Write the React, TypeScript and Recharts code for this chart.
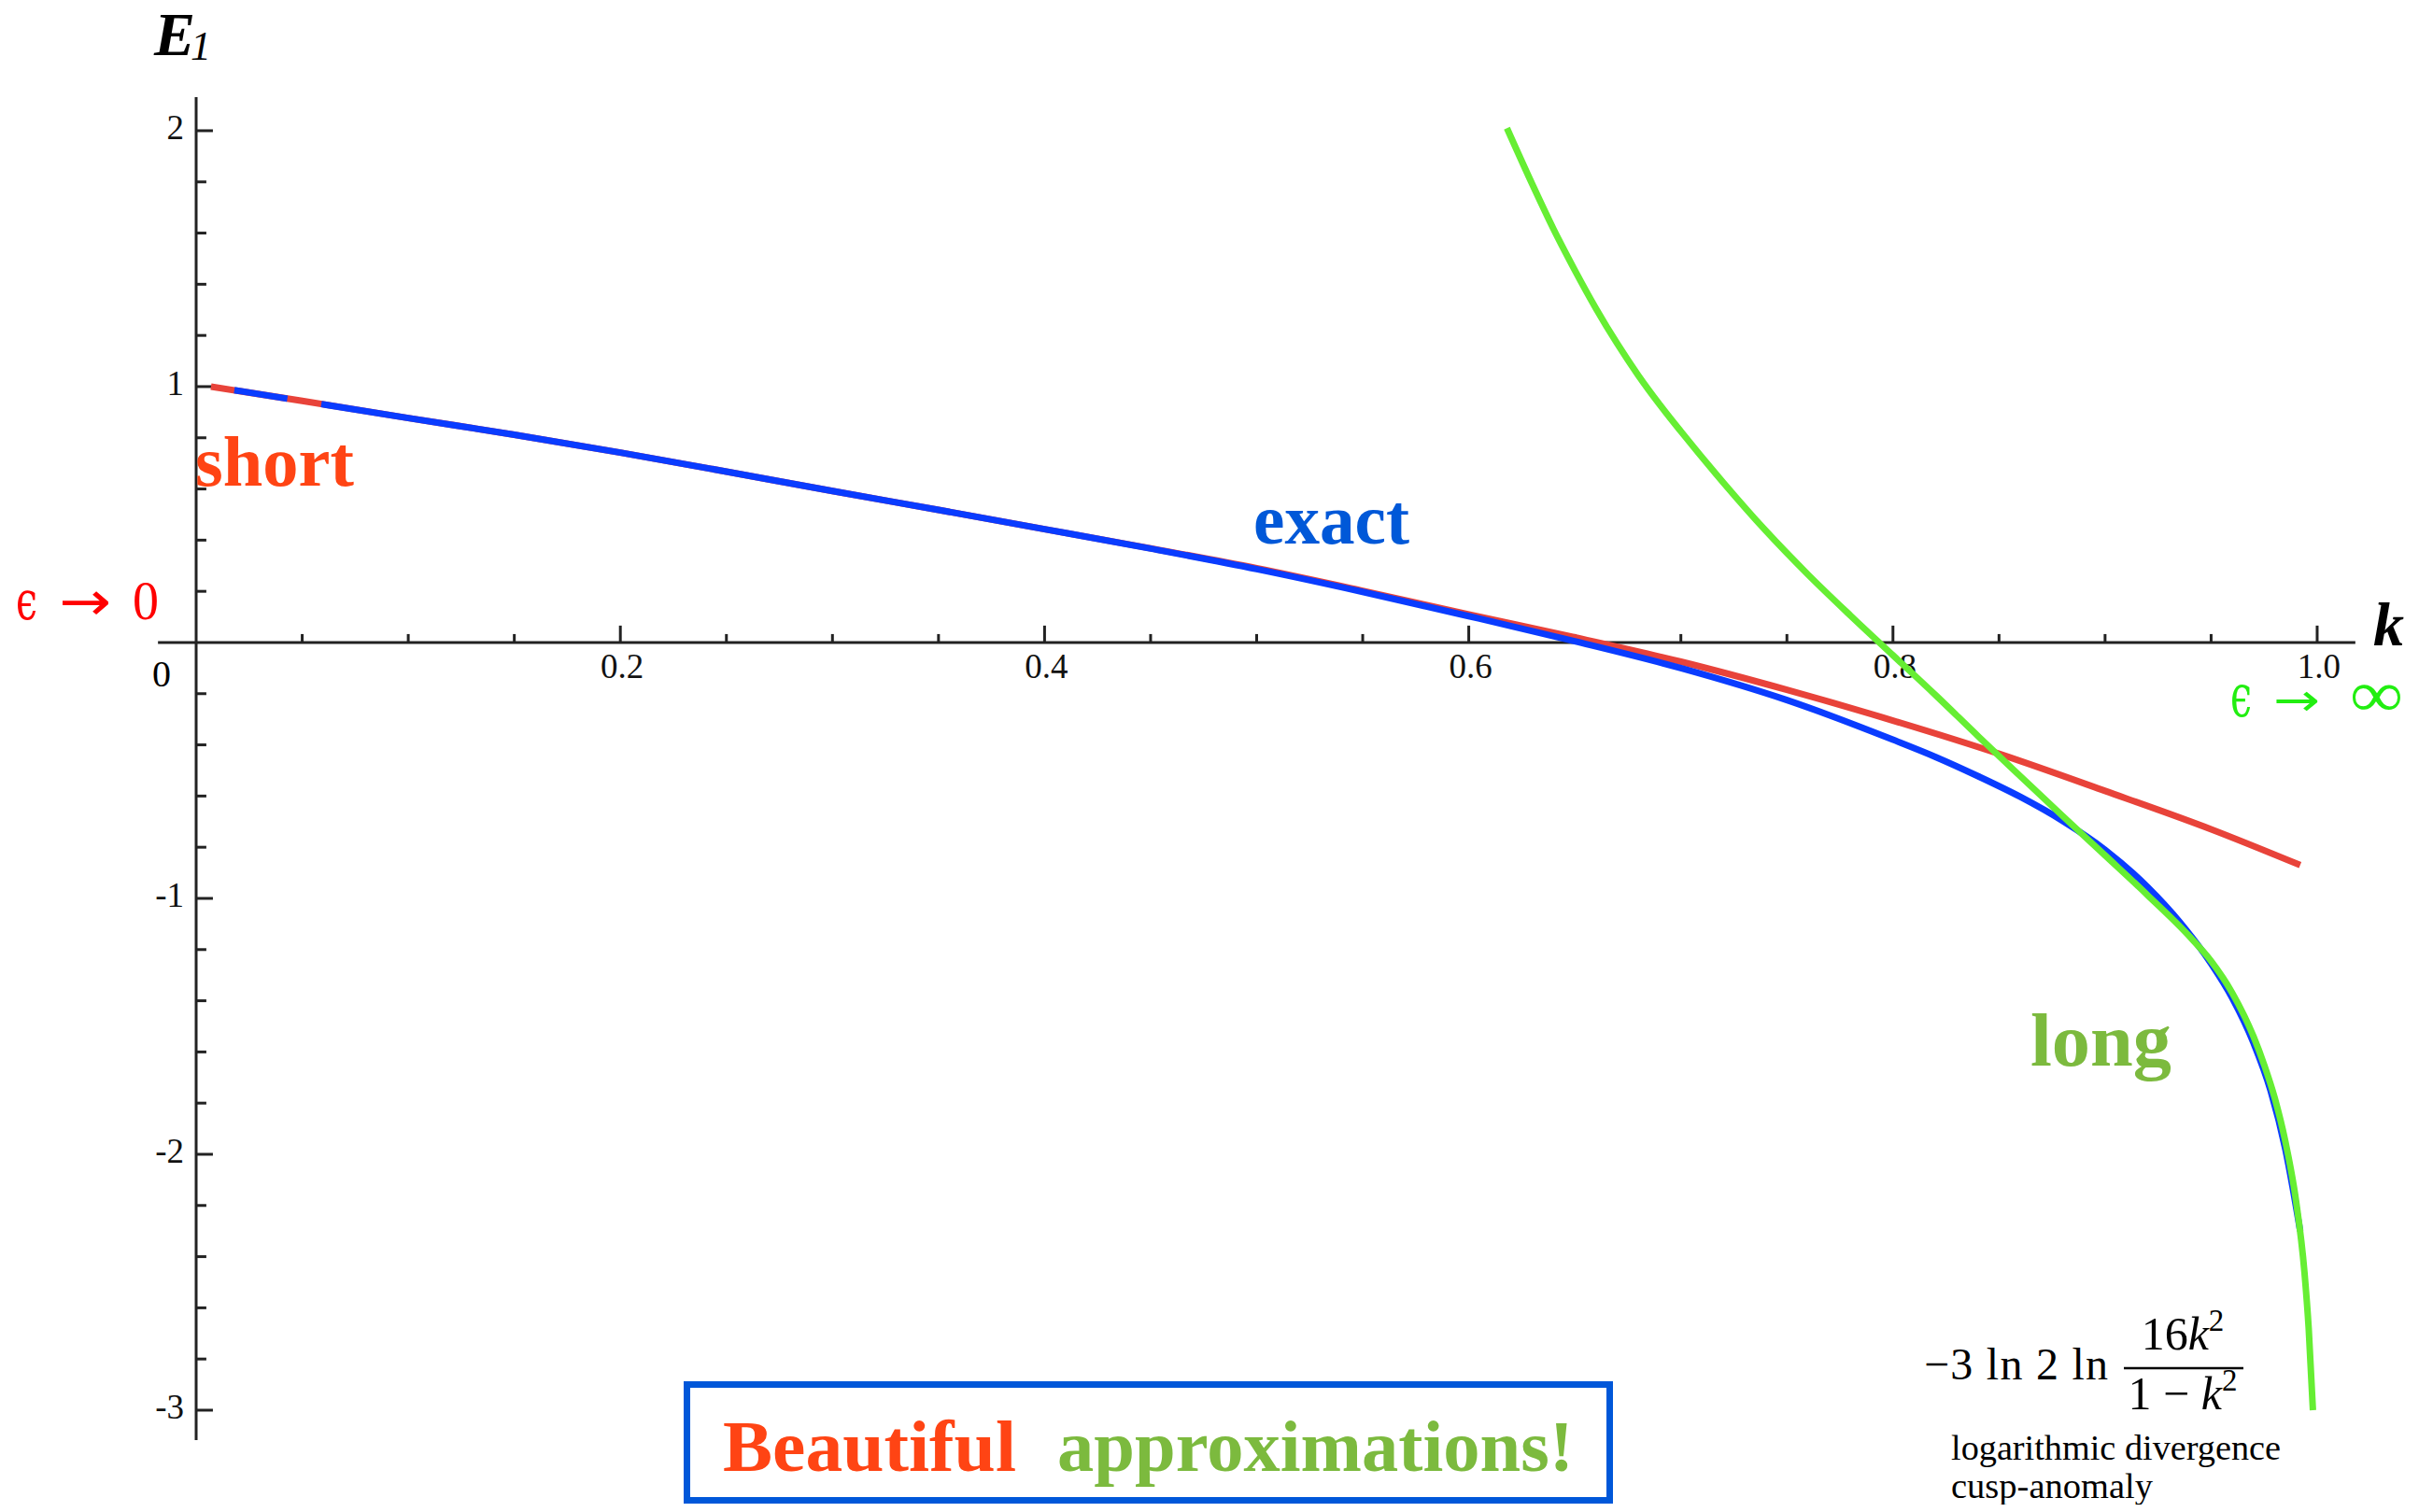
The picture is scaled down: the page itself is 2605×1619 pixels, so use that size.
import React from 'react';
import { LineChart, Line, XAxis, YAxis, ReferenceLine } from 'recharts';

// exact curve (blue) — the small gap near k=0.05 lets the red curve show through
const kExact = [0.018, 0.043, 0.05, 0.059, 0.1, 0.15, 0.2, 0.25, 0.3, 0.35, 0.4, 0.45, 0.5, 0.55, 0.6, 0.65, 0.7, 0.75, 0.8, 0.82, 0.84, 0.86, 0.88, 0.9, 0.92, 0.935, 0.95, 0.96, 0.97, 0.978, 0.985, 0.992];
const eExact = [0.986, 0.953, null, 0.932, 0.877, 0.812, 0.742, 0.668, 0.592, 0.518, 0.443, 0.367, 0.287, 0.198, 0.103, 0.005, -0.1, -0.225, -0.38, -0.447, -0.522, -0.603, -0.697, -0.81, -0.955, -1.09, -1.255, -1.39, -1.565, -1.75, -1.98, -2.3];

// short string expansion (red)
const kShort = [0.007, 0.05, 0.1, 0.15, 0.2, 0.25, 0.3, 0.35, 0.4, 0.45, 0.5, 0.55, 0.6, 0.65, 0.7, 0.75, 0.8, 0.85, 0.9, 0.95, 0.992];
const eShort = [1.0, 0.944, 0.877, 0.812, 0.742, 0.668, 0.592, 0.518, 0.443, 0.368, 0.29, 0.202, 0.11, 0.02, -0.075, -0.185, -0.305, -0.435, -0.58, -0.73, -0.87];

// long string expansion (green)
const kLong = [0.618, 0.63, 0.64, 0.65, 0.66, 0.67, 0.68, 0.69, 0.7, 0.72, 0.74, 0.76, 0.78, 0.8, 0.82, 0.84, 0.86, 0.88, 0.9, 0.92, 0.94, 0.95, 0.96, 0.97, 0.975, 0.98, 0.985, 0.99, 0.994, 0.996, 0.998];
const eLong = [2.01, 1.79, 1.615, 1.455, 1.305, 1.168, 1.043, 0.93, 0.825, 0.625, 0.437, 0.265, 0.105, -0.05, -0.205, -0.365, -0.522, -0.678, -0.832, -0.987, -1.15, -1.245, -1.37, -1.54, -1.65, -1.78, -1.95, -2.18, -2.46, -2.68, -3.0];

// axes
const xMajor = [0.2, 0.4, 0.6, 0.8, 1.0];
const xTickLabels = ['0.2', '0.4', '0.6', '0.8', '1.0'];
const xMinor = [0.05, 0.1, 0.15, 0.25, 0.3, 0.35, 0.45, 0.5, 0.55, 0.65, 0.7, 0.75, 0.85, 0.9, 0.95];
const yMajor = [2, 1, -1, -2, -3];
const yTickLabels = ['2', '1', '-1', '-2', '-3'];
const yMinor = [1.8, 1.6, 1.4, 1.2, 0.8, 0.6, 0.4, 0.2, -0.2, -0.4, -0.6, -0.8, -1.2, -1.4, -1.6, -1.8, -2.2, -2.4, -2.6, -2.8];

const toRows = (ks: number[], es: (number | null)[]) => ks.map((k, i) => ({ k, e: es[i] }));
const exactData = toRows(kExact, eExact);
const shortData = toRows(kShort, eShort);
const longData = toRows(kLong, eLong);

const serif = "'Liberation Serif', 'DejaVu Serif', serif";
const axisColor = '#222';

const xTickLabel = (text: string) => (props: any) => {
  const vb = props.viewBox;
  return (
    <text x={vb.x + vb.width / 2 + 2} y={vb.y + vb.height + 38} textAnchor="middle" fontSize={37} fontFamily={serif} fill="#111">
      {text}
    </text>
  );
};

const yTickLabel = (text: string) => (props: any) => {
  const vb = props.viewBox;
  return (
    <text x={vb.x - 13} y={vb.y + 9} textAnchor="end" fontSize={37} fontFamily={serif} fill="#111">
      {text}
    </text>
  );
};

export default function App() {
  return (
    <div style={{ position: 'relative', width: 2589, height: 1603 }}>
      <LineChart width={2589} height={1603} margin={{ top: 93.6, right: 70.6, bottom: 65.4, left: 156.6 }}>
        <XAxis type="number" dataKey="k" domain={[-0.02, 1.02]} hide allowDataOverflow />
        <YAxis type="number" domain={[-3.13, 2.14]} hide allowDataOverflow />

        {/* axes crossing at the origin */}
        <ReferenceLine segment={[{ x: -0.018, y: 0 }, { x: 1.018, y: 0 }]} stroke={axisColor} strokeWidth={3} />
        <ReferenceLine segment={[{ x: 0, y: -3.117 }, { x: 0, y: 2.131 }]} stroke={axisColor} strokeWidth={3} />

        {xMajor.map((v, i) => (
          <ReferenceLine key={'xM' + v} segment={[{ x: v, y: 0 }, { x: v, y: 0.066 }]} stroke={axisColor} strokeWidth={3} label={xTickLabel(xTickLabels[i])} />
        ))}
        {xMinor.map((v) => (
          <ReferenceLine key={'xm' + v} segment={[{ x: v, y: 0 }, { x: v, y: 0.033 }]} stroke={axisColor} strokeWidth={3} />
        ))}
        {yMajor.map((v, i) => (
          <ReferenceLine key={'yM' + v} segment={[{ x: 0, y: v }, { x: 0.0079, y: v }]} stroke={axisColor} strokeWidth={3} label={yTickLabel(yTickLabels[i])} />
        ))}
        {yMinor.map((v) => (
          <ReferenceLine key={'ym' + v} segment={[{ x: 0, y: v }, { x: 0.0048, y: v }]} stroke={axisColor} strokeWidth={3} />
        ))}

        <Line data={shortData} dataKey="e" type="monotone" stroke="#e8433a" strokeWidth={7} dot={false} isAnimationActive={false} />
        <Line data={exactData} dataKey="e" type="monotone" stroke="#0a3cff" strokeWidth={7} dot={false} connectNulls={false} isAnimationActive={false} />
        <Line data={longData} dataKey="e" type="monotone" stroke="#66ee33" strokeWidth={7} dot={false} isAnimationActive={false} />
      </LineChart>

      {/* annotations, in page coordinates */}
      <svg width={2605} height={1619} style={{ position: 'absolute', left: -8, top: -8, pointerEvents: 'none', overflow: 'visible' }}>
        <text x={165} y={59} fontFamily={serif} fontStyle="italic" fontWeight="bold" fontSize={66} fill="#000">E</text>
        <text x={204} y={64} fontFamily={serif} fontStyle="italic" fontSize={44} fill="#000">1</text>
        <text x={2541} y={691} fontFamily={serif} fontStyle="italic" fontWeight="bold" fontSize={66} fill="#000">k</text>

        <text x={173} y={735} textAnchor="middle" fontFamily={serif} fontSize={40} fill="#000">0</text>

        {/* epsilon -> 0 */}
        <text x={17} y={663} fontFamily="'DejaVu Serif', serif" fontSize={58} fill="#ff0000" textLength={23} lengthAdjust="spacingAndGlyphs">ϵ</text>
        <text x={63} y={664} fontFamily="'DejaVu Sans', sans-serif" fontSize={58} fill="#ff0000" textLength={56} lengthAdjust="spacingAndGlyphs">→</text>
        <text x={142} y={663} fontFamily={serif} fontSize={60} fill="#ff0000" textLength={28} lengthAdjust="spacingAndGlyphs">0</text>

        {/* epsilon -> infinity */}
        <text x={2388} y={767} fontFamily="'DejaVu Serif', serif" fontSize={64} fill="#22ee11" textLength={23} lengthAdjust="spacingAndGlyphs">ϵ</text>
        <text x={2434} y={766} fontFamily="'DejaVu Sans', sans-serif" fontSize={48} fill="#22ee11" textLength={50} lengthAdjust="spacingAndGlyphs">→</text>
        <text x={2516} y={767} fontFamily={serif} fontSize={70} fill="#22ee11" textLength={57} lengthAdjust="spacingAndGlyphs">∞</text>

        <text x={209} y={520} fontFamily={serif} fontWeight="bold" fontSize={77} fill="#ff4414" textLength={170} lengthAdjust="spacingAndGlyphs">short</text>
        <text x={1342} y={582} fontFamily={serif} fontWeight="bold" fontSize={76} fill="#0058d8" textLength={167} lengthAdjust="spacingAndGlyphs">exact</text>
        <text x={2174} y={1141} fontFamily={serif} fontWeight="bold" fontSize={81} fill="#7cba3e" textLength={151} lengthAdjust="spacingAndGlyphs">long</text>

        {/* formula */}
        <text x={2060} y={1477} fontFamily={serif} fontSize={48} fill="#000" textLength={197} lengthAdjust="spacing">−3 ln 2 ln</text>
        <text x={2337} y={1445} textAnchor="middle" fontFamily={serif} fontSize={50} fill="#000">
          16<tspan fontStyle="italic">k</tspan><tspan fontSize={33} dy={-20}>2</tspan>
        </text>
        <line x1={2274} y1={1465} x2={2402} y2={1465} stroke="#000" strokeWidth={2.5} />
        <text x={2337} y={1509} textAnchor="middle" fontFamily={serif} fontSize={50} fill="#000">
          1 − <tspan fontStyle="italic">k</tspan><tspan fontSize={33} dy={-20}>2</tspan>
        </text>
        <text x={2089} y={1563} fontFamily={serif} fontSize={37} fill="#000" textLength={353} lengthAdjust="spacingAndGlyphs">logarithmic divergence</text>
        <text x={2089} y={1604} fontFamily={serif} fontSize={37} fill="#000" textLength={216} lengthAdjust="spacingAndGlyphs">cusp-anomaly</text>

        {/* boxed slogan */}
        <rect x={735.5} y={1482.5} width={988} height={124} fill="none" stroke="#0057d9" strokeWidth={7} />
        <text x={774} y={1575} fontFamily={serif} fontWeight="bold" fontSize={78} fill="#ff4414" textLength={314} lengthAdjust="spacingAndGlyphs">Beautiful</text>
        <text x={1132} y={1575} fontFamily={serif} fontWeight="bold" fontSize={78} fill="#7cba3e" textLength={553} lengthAdjust="spacingAndGlyphs">approximations!</text>
      </svg>
    </div>
  );
}
